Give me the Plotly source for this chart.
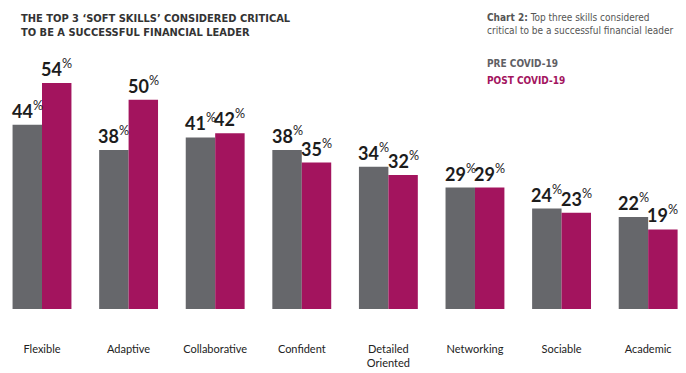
import plotly.graph_objects as go

categories = ["Flexible", "Adaptive", "Collaborative", "Confident", "Detailed<br>Oriented",
              "Networking", "Sociable", "Academic"]
pre_covid = [44, 38, 41, 38, 34, 29, 24, 22]
post_covid = [54, 50, 42, 35, 32, 29, 23, 19]

GRAY = "#66676b"
MAGENTA = "#a3145e"
BAR_W = 0.34
NARROW = "DejaVu Sans Condensed"

idx = list(range(len(categories)))
x_pre = [i - BAR_W / 2 for i in idx]
x_post = [i + BAR_W / 2 for i in idx]

fig = go.Figure()
fig.add_trace(go.Bar(x=x_pre, y=pre_covid, width=BAR_W, marker_color=GRAY,
                     marker_line_width=0, name="PRE COVID-19", hoverinfo="skip"))
fig.add_trace(go.Bar(x=x_post, y=post_covid, width=BAR_W, marker_color=MAGENTA,
                     marker_line_width=0, name="POST COVID-19", hoverinfo="skip"))

annots = []
for xs, vals in ((x_pre, pre_covid), (x_post, post_covid)):
    for x, v in zip(xs, vals):
        annots.append(dict(x=x, y=v, xref="x", yref="y", yanchor="bottom", xanchor="center",
                           text=f"<b>{v}</b><sup>%</sup>", showarrow=False, yshift=1,
                           font=dict(family="Lato", size=18, color="#1c1c1c")))

# Title and notes
annots.append(dict(xref="paper", yref="paper", x=19/686, y=1.0, xanchor="left", yanchor="top",
                   yshift=6, align="left", showarrow=False,
                   text="<b>THE TOP 3 ‘SOFT SKILLS’ CONSIDERED CRITICAL<br>TO BE A SUCCESSFUL FINANCIAL LEADER</b>",
                   font=dict(family=NARROW, size=11, color="#333333")))
annots.append(dict(xref="paper", yref="paper", x=485/686, y=1.0, xanchor="left", yanchor="top",
                   yshift=6, align="left", showarrow=False,
                   text="<b>Chart 2:</b> Top three skills considered<br>critical to be a successful financial leader",
                   font=dict(family=NARROW, size=10, color="#555555")))
annots.append(dict(xref="paper", yref="paper", x=485/686, y=1.0, xanchor="left", yanchor="top",
                   yshift=16 - 56, align="left", showarrow=False,
                   text="<b>PRE COVID-19</b>",
                   font=dict(family=NARROW, size=10, color="#5f6064")))
annots.append(dict(xref="paper", yref="paper", x=485/686, y=1.0, xanchor="left", yanchor="top",
                   yshift=16 - 73, align="left", showarrow=False,
                   text="<b>POST COVID-19</b>",
                   font=dict(family=NARROW, size=10, color=MAGENTA)))

fig.update_layout(
    width=686, height=373,
    margin=dict(l=0, r=0, t=16, b=64),
    paper_bgcolor="white", plot_bgcolor="white",
    showlegend=False, barmode="overlay",
    annotations=annots,
    xaxis=dict(range=[-0.485, 7.437], tickvals=idx, ticktext=categories,
               showgrid=False, zeroline=False, showline=False, ticks="",
               ticklabelstandoff=32,
               tickfont=dict(family="Lato", size=11, color="#222222"), fixedrange=True),
    yaxis=dict(range=[0, 70], visible=False, fixedrange=True),
)

fig.write_html("out.html", post_script="document.body.style.margin='0';",
               config={"displayModeBar": False})
